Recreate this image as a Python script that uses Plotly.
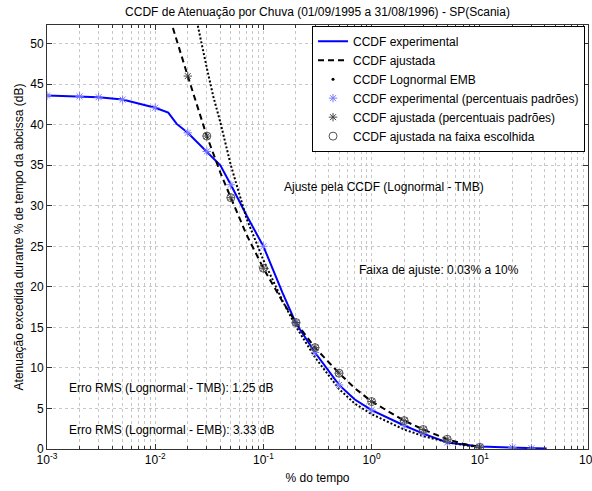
import math
import plotly.graph_objects as go

# ---------------- data ----------------
# Experimental CCDF (blue solid line)
p_exp = [0.001, 0.002, 0.003, 0.005, 0.01, 0.0132, 0.0158, 0.02, 0.03, 0.04,
         0.05, 0.07, 0.1, 0.15, 0.2, 0.3, 0.5, 0.7, 1, 2, 3, 5, 10, 20, 30, 41.5]
a_exp = [43.6, 43.5, 43.4, 43.1, 42.1, 41.5, 40.1, 39.0, 36.7, 35.0,
         32.6, 28.8, 25.0, 19.3, 15.5, 11.9, 7.9, 6.1, 4.8, 2.9, 1.9, 0.8, 0.3, 0.2, 0.1, 0.05]

# Standard percentages: experimental values (blue asterisks)
p_std = [0.001, 0.002, 0.003, 0.005, 0.01, 0.02, 0.03, 0.05, 0.1, 0.2, 0.3,
         0.5, 1, 2, 3, 5, 10, 20, 30]
a_exp_std = [43.6, 43.5, 43.4, 43.1, 42.1, 39.0, 36.7, 32.6, 25.0, 15.5, 11.9,
             7.9, 4.8, 2.9, 1.9, 0.8, 0.3, 0.2, 0.1]

# Fitted CCDF (Lognormal - TMB), black dashed
p_fit = [0.01, 0.0147, 0.02, 0.03, 0.04, 0.05, 0.07, 0.1, 0.15, 0.2, 0.3,
         0.5, 0.7, 1, 2, 3, 5, 7, 10]
a_fit = [59.0, 51.7, 46.0, 38.6, 34.1, 31.0, 26.4, 22.3, 18.2, 15.6, 12.5,
         9.35, 7.5, 5.85, 3.5, 2.4, 1.2, 0.65, 0.2]

# Fitted values at standard percentages (black asterisks)
p_fit_std = [0.01, 0.02, 0.03, 0.05, 0.1, 0.2, 0.3, 0.5, 1, 2, 3, 5, 10]
a_fit_std = [59.0, 46.0, 38.6, 31.0, 22.3, 15.6, 12.5, 9.35, 5.85, 3.5, 2.4, 1.2, 0.2]

# Fitted values inside the chosen range 0.03% .. 10% (circles)
p_range = [0.03, 0.05, 0.1, 0.2, 0.3, 0.5, 1, 2, 3, 5, 10]
a_range = [38.6, 31.0, 22.3, 15.6, 12.5, 9.35, 5.85, 3.5, 2.4, 1.2, 0.2]

# Lognormal EMB (black dotted)
p_emb = [0.02, 0.025, 0.03, 0.0344, 0.04, 0.05, 0.07, 0.1, 0.15, 0.2, 0.3,
         0.5, 0.7, 1, 2, 3, 5, 7, 10]
a_emb = [58.0, 51.7, 47.0, 43.5, 40.3, 35.0, 28.4, 23.3, 18.3, 15.1, 11.3,
         7.4, 5.6, 4.3, 2.4, 1.6, 0.85, 0.5, 0.25]

x_tickvals = [0.001, 0.01, 0.1, 1, 10, 100]
x_ticktext = ["10<sup>-3</sup>", "10<sup>-2</sup>", "10<sup>-1</sup>",
              "10<sup>0</sup>", "10<sup>1</sup>", "10<sup>2</sup>"]
y_tickvals = [0, 5, 10, 15, 20, 25, 30, 35, 40, 45, 50]

FONT = "Liberation Sans, Arial, Helvetica, sans-serif"
GRID = "#c8c8c8"
AX = "#333333"

fig = go.Figure()
fig.add_trace(go.Scatter(x=p_exp, y=a_exp, mode="lines", name="CCDF experimental",
                         line=dict(color="#0000ff", width=2)))
fig.add_trace(go.Scatter(x=p_fit, y=a_fit, mode="lines", name="CCDF ajustada",
                         line=dict(color="black", width=2, dash="6px,4px")))
fig.add_trace(go.Scatter(x=p_emb, y=a_emb, mode="lines", showlegend=False,
                         line=dict(color="black", width=2, dash="2px,2px")))
fig.add_trace(go.Scatter(x=[None], y=[None], mode="markers", name="CCDF Lognormal EMB",
                         marker=dict(color="black", size=3, symbol="circle")))
fig.add_trace(go.Scatter(x=p_std, y=a_exp_std, mode="markers",
                         name="CCDF experimental (percentuais padrões)",
                         marker=dict(symbol="asterisk-open", size=7, color="#7a7aff",
                                     line=dict(color="#7a7aff", width=1))))
fig.add_trace(go.Scatter(x=p_fit_std, y=a_fit_std, mode="markers",
                         name="CCDF ajustada (percentuais padrões)",
                         marker=dict(symbol="asterisk-open", size=7, color="#444444",
                                     line=dict(color="#444444", width=1))))
fig.add_trace(go.Scatter(x=p_range, y=a_range, mode="markers",
                         name="CCDF ajustada na faixa escolhida",
                         marker=dict(symbol="circle-open", size=8, color="#555555",
                                     line=dict(color="#555555", width=1))))

annots = [
    ("Ajuste pela CCDF (Lognormal - TMB)", 0.15, 32.3),
    ("Faixa de ajuste: 0.03% a 10%", 0.74, 22.1),
    ("Erro RMS (Lognormal - TMB): 1.25 dB", 0.00152, 7.5),
    ("Erro RMS (Lognormal - EMB): 3.33 dB", 0.00152, 2.4),
]
for txt, xv, yv in annots:
    fig.add_annotation(x=math.log10(xv), y=yv, xref="x", yref="y", text=txt,
                       showarrow=False, xanchor="left", yanchor="middle",
                       font=dict(size=12, color="black", family=FONT))

fig.update_layout(
    width=592, height=491,
    margin=dict(l=47, r=4, t=25, b=42),
    paper_bgcolor="white", plot_bgcolor="white",
    font=dict(family=FONT, size=12, color="black"),
    title=dict(text="CCDF de Atenuação por Chuva (01/09/1995 a 31/08/1996) - SP(Scania)",
               x=0.5, xref="paper", y=1 - 12 / 491, yref="container",
               yanchor="middle", xanchor="center", font=dict(size=12, family=FONT)),
    legend=dict(x=0.9945, y=0.9985, xanchor="right", yanchor="top",
                bgcolor="white", bordercolor="black", borderwidth=1,
                font=dict(size=12, family=FONT), traceorder="normal"),
    showlegend=True,
)
fig.update_xaxes(type="log", range=[-3, 2], tickvals=x_tickvals, ticktext=x_ticktext,
                 showgrid=True, gridcolor=GRID, griddash="dot", gridwidth=1,
                 ticks="inside", ticklen=5, tickcolor=AX,
                 showline=True, linecolor=AX, linewidth=1, mirror="allticks",
                 zeroline=False, ticklabeloverflow="allow", automargin=False,
                 minor=dict(dtick="D1", showgrid=True, gridcolor=GRID, griddash="dot",
                            ticks="inside", ticklen=3, tickcolor=AX),
                 title=dict(text="% do tempo", standoff=7, font=dict(size=12)))
fig.update_yaxes(range=[0, 52.3], tickvals=y_tickvals,
                 showgrid=True, gridcolor=GRID, griddash="dot", gridwidth=1,
                 ticks="inside", ticklen=5, tickcolor=AX,
                 showline=True, linecolor=AX, linewidth=1, mirror="allticks",
                 zeroline=False, automargin=False,
                 title=dict(text="Atenuação excedida durante % de tempo da abcissa (dB)",
                            standoff=4, font=dict(size=12)))

fig.write_html("out.html")
